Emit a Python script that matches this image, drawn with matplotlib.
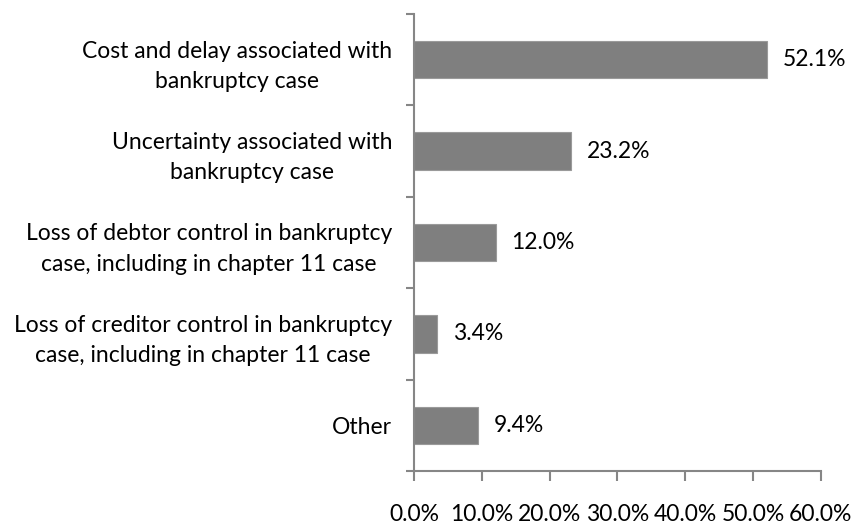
import numpy as np
import matplotlib.pyplot as plt

plt.rcParams['font.family'] = ['Lato', 'DejaVu Sans']

# dados
categorias = ["Cost and delay associated with\nbankruptcy case",
              "Uncertainty associated with\nbankruptcy case",
              "Loss of debtor control in bankruptcy\ncase, including in chapter 11 case",
              "Loss of creditor control in bankruptcy\ncase, including in chapter 11 case",
              "Other"]
valores = [52.1, 23.2, 12.0, 3.4, 9.4]
ticks_x = [0, 10, 20, 30, 40, 50, 60]

cor_barra = '#7f7f7f'
cor_eixo = '#868686'
tam = 16.5

fig = plt.figure(figsize=(8.55, 5.25), dpi=100)
ax = fig.add_axes([0.4845, 0.1029, 0.4754, 0.8704])

y = np.arange(len(categorias))
ax.barh(y, valores, height=0.41, color=cor_barra, edgecolor='#9a9a9a', linewidth=0.8)

for yi, v in zip(y, valores):
    ax.text(v + 2.3, yi, f"{v:.1f}%", va='center', ha='left', fontsize=tam)

ax.set_ylim(len(categorias) - 0.5, -0.5)
ax.set_xlim(0, 60)

ax.set_yticks(y)
ax.set_yticklabels(categorias, fontsize=tam, ha='right', multialignment='center',
                   linespacing=1.55)
ax.set_yticks(np.arange(-0.5, len(categorias)), minor=True)
ax.tick_params(axis='y', which='major', length=0, pad=16)
ax.tick_params(axis='y', which='minor', length=6, color=cor_eixo, width=1.5, direction='out')

ax.set_xticks(ticks_x)
ax.set_xticklabels([f"{t:.1f}%" for t in ticks_x], fontsize=tam)
ax.tick_params(axis='x', length=7, color=cor_eixo, width=1.5, direction='out', pad=17)

for lado in ['top', 'right']:
    ax.spines[lado].set_visible(False)
for lado in ['left', 'bottom']:
    ax.spines[lado].set_color(cor_eixo)
    ax.spines[lado].set_linewidth(1.5)

fig.savefig('out.png', dpi=100)
